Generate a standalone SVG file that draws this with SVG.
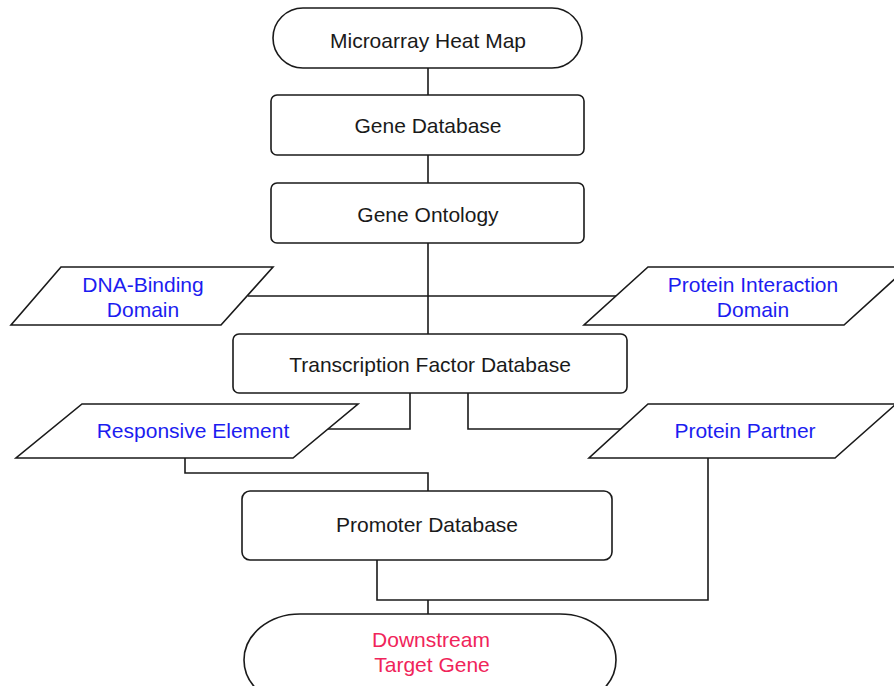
<svg xmlns="http://www.w3.org/2000/svg" width="894" height="686" viewBox="0 0 894 686">
<style>
.s{fill:#fff;stroke:#1a1a1a;stroke-width:1.6}
.c{fill:none;stroke:#1a1a1a;stroke-width:1.6}
text{font-family:"Liberation Sans",Arial,sans-serif;font-size:21px;text-anchor:middle}
.k{fill:#1a1a1a}
.b{fill:#1c1cf0}
.r{fill:#f0245a}
</style>
<rect width="894" height="686" fill="#fff"/>
<g id="connectors">
<path class="c" d="M428 68V95M428 155V183M428 243V334M248 296H616"/>
<path class="c" d="M410 393V429H328M468 393V429H621"/>
<path class="c" d="M185 458V473H428V491"/>
<path class="c" d="M377 560V600H708V458M428 600V614"/>
</g>
<g id="n1"><rect class="s" x="273" y="8" width="309" height="60" rx="30"/><text class="k" x="428" y="48">Microarray Heat Map</text></g>
<g id="n2"><rect class="s" x="271" y="95" width="313" height="60" rx="6"/><text class="k" x="428" y="133">Gene Database</text></g>
<g id="n3"><rect class="s" x="271" y="183" width="313" height="60" rx="6"/><text class="k" x="428" y="222">Gene Ontology</text></g>
<g id="n4"><polygon class="s" points="61,267 273,267 221,325 11,325"/><text class="b" x="143" y="292">DNA-Binding</text><text class="b" x="143" y="317">Domain</text></g>
<g id="n5"><polygon class="s" points="648,267 908,267 844,325 584,325"/><text class="b" x="753" y="292">Protein Interaction</text><text class="b" x="753" y="317">Domain</text></g>
<g id="n6"><rect class="s" x="233" y="334" width="394" height="59" rx="6"/><text class="k" x="430" y="372">Transcription Factor Database</text></g>
<g id="n7"><polygon class="s" points="82,404 358,404 293,458 16,458"/><text class="b" x="193" y="438">Responsive Element</text></g>
<g id="n8"><polygon class="s" points="648,404 896,404 835,458 589,458"/><text class="b" x="745" y="438">Protein Partner</text></g>
<g id="n9"><rect class="s" x="242" y="491" width="370" height="69" rx="8"/><text class="k" x="427" y="532">Promoter Database</text></g>
<g id="n10"><rect class="s" x="244" y="614" width="372" height="92" rx="56" ry="46"/><text class="r" x="431" y="647">Downstream</text><text class="r" x="432" y="672">Target Gene</text></g>
</svg>
